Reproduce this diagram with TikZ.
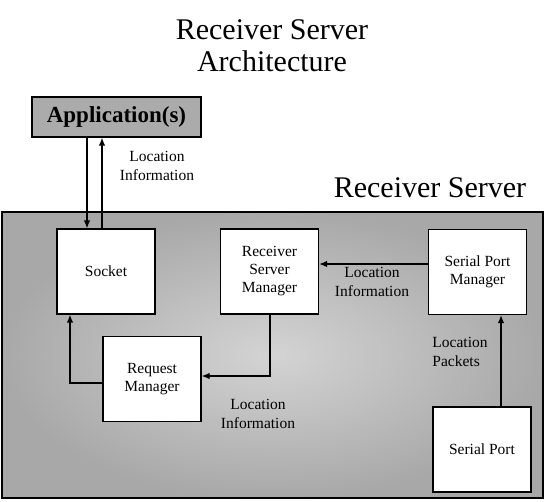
\documentclass[tikz,border=0pt]{standalone}
\usepackage{fontspec}
\setmainfont{Liberation Serif}
\usetikzlibrary{arrows.meta}
\begin{document}
\begin{tikzpicture}[x=1pt,y=-1pt,
 box/.style={draw=black, line width=1.2pt, fill=white, minimum width=98pt, minimum height=85pt, align=center, font=\fontsize{15.5}{18}\selectfont, inner sep=0pt},
 arr/.style={line width=1.3pt, -{Latex[length=8pt,width=6.5pt]}},
 lbl/.style={align=center, font=\fontsize{15.5}{18.5}\selectfont, inner sep=0pt},
 big/.style={font=\fontsize{30}{32}\selectfont, align=center, inner sep=0pt}]
\useasboundingbox (0,0) rectangle (546,501);
\fill[white] (0,0) rectangle (546,501);
% title
\node[big] (title) at (272,46) {Receiver Server\\Architecture};
% application
\node[draw=black, line width=1.2pt, fill=black!33, minimum width=169pt, minimum height=40pt, inner sep=0pt,
      font=\bfseries\fontsize{23}{26}\selectfont] (app) at (116.5,117) {Application(s)};
\node[lbl] (lbl1) at (157,166) {Location\\Information};
% receiver server label
\node[big] (rslbl) at (430,188) {Receiver Server};
% outer box
\node[draw=black, line width=2.5pt, minimum width=541pt, minimum height=286pt, inner sep=0pt,
      shading=radial, inner color=black!17, outer color=black!34] (rs) at (272.5,355) {};
% boxes
\node[box] (socket) at (106,271.5) {Socket};
\node[box] (rsm) at (269.5,271.5) {Receiver\\Server\\Manager};
\node[box] (spm) at (477.5,272) {Serial Port\\Manager};
\node[box] (rm) at (152,379) {Request\\Manager};
\node[box] (sp) at (482,449.5) {Serial Port};
% labels
\node[lbl] (lbl2) at (372,282) {Location\\Information};
\node[lbl] (lbl3) at (258,414) {Location\\Information};
\node[lbl, align=left] (lbl4) at (460,352) {Location\\Packets};
% connectors
\draw[arr] (87,0 |- app.south) -- (87,0 |- socket.north);
\draw[arr] (102,0 |- socket.north) -- (102,0 |- app.south);
\draw[arr] (spm.west |- 0,264) -- (rsm.east |- 0,264);
\draw[arr] (270,0 |- rsm.south) -- (270,376) -- (rm.east |- 0,376);
\draw[arr] (rm.west |- 0,383) -- (70,383) -- (70,0 |- socket.south);
\draw[arr] (501,0 |- sp.north) -- (501,0 |- spm.south);
\end{tikzpicture}
\end{document}
